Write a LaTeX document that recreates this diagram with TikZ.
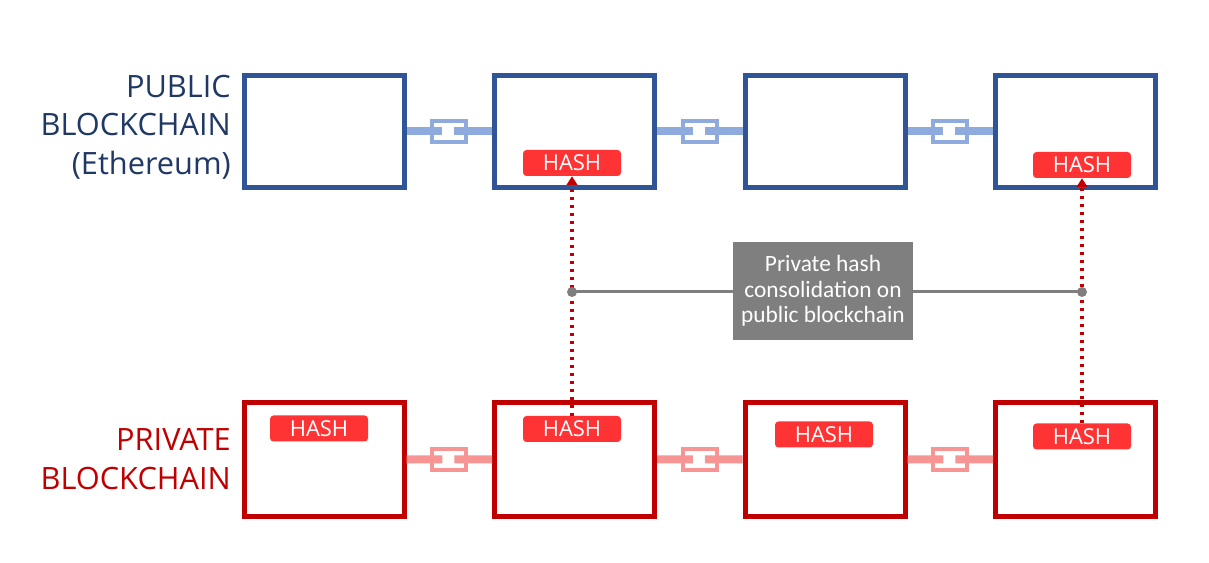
\documentclass[tikz,border=0pt]{standalone}
\usepackage{fontspec}
\setmainfont{Open Sans}
\newfontfamily\notefont{Carlito}
\usepackage{tikz}
\usetikzlibrary{arrows.meta,positioning,calc}

\definecolor{pubblue}{HTML}{2F5597}
\definecolor{pubchain}{HTML}{8FAADC}
\definecolor{pubtext}{HTML}{203864}
\definecolor{prvred}{HTML}{C00000}
\definecolor{prvchain}{HTML}{F79494}
\definecolor{hashred}{HTML}{FF3333}
\definecolor{notegray}{HTML}{7F7F7F}

% chain link between two blocks: from, to, colour
\newcommand{\chainlink}[3]{%
\coordinate (m) at ($(#1.east)!0.5!(#2.west)$);
\draw[#3, line width=0.16cm] (#1.east) -- ($(m)+(-0.14,0)$);
\draw[#3, line width=0.16cm] ($(m)+(0.1,0)$) -- (#2.west);
\draw[#3, line width=0.08cm] ($(m)+(-0.34,-0.21)$) rectangle ($(m)+(0.34,0.21)$);
}

\begin{document}
\begin{tikzpicture}[node distance=1.71cm]
\tikzstyle{block} = [rectangle, line width=0.1cm, minimum width=3.2cm, minimum height=2.24cm, inner sep=0]
\tikzstyle{pubblock} = [block, draw=pubblue]
\tikzstyle{prvblock} = [block, draw=prvred, minimum height=2.28cm]
\tikzstyle{hash} = [rectangle, fill=hashred, rounded corners=0.07cm, text=white, minimum width=1.96cm, minimum height=0.52cm, inner sep=0, font=\fontsize{12.5}{14}\selectfont]
\tikzstyle{hashlink} = [prvred, line width=0.07cm, dash pattern=on 0.06cm off 0.1cm, -{Triangle[length=0.17cm, width=0.22cm, line width=0pt]}]
\useasboundingbox (0,0) rectangle (24.18,11.26);

% public chain
\node[pubblock] (pub1) at (6.48,8.63) {};
\node[pubblock] (pub2) [right=of pub1] {};
\node[pubblock] (pub3) [right=of pub2] {};
\node[pubblock] (pub4) [right=of pub3] {};
\chainlink{pub1}{pub2}{pubchain}
\chainlink{pub2}{pub3}{pubchain}
\chainlink{pub3}{pub4}{pubchain}
\node[anchor=east, align=right, text=pubtext, font=\fontsize{17.5}{21.8}\selectfont] (publabel) at (4.74,8.72) {PUBLIC\\BLOCKCHAIN\\(Ethereum)};

% private chain
\node[prvblock] (prv1) at (6.48,2.07) {};
\node[prvblock] (prv2) [right=of prv1] {};
\node[prvblock] (prv3) [right=of prv2] {};
\node[prvblock] (prv4) [right=of prv3] {};
\chainlink{prv1}{prv2}{prvchain}
\chainlink{prv2}{prv3}{prvchain}
\chainlink{prv3}{prv4}{prvchain}
\node[anchor=east, align=right, text=prvred, font=\fontsize{17.5}{21.8}\selectfont] (prvlabel) at (4.74,2.08) {PRIVATE\\BLOCKCHAIN};

% hashes
\node[hash] (pub2hash) at (11.44,8.0) {HASH};
\node[hash] (pub4hash) at (21.64,7.96) {HASH};
\node[hash] (prv1hash) at (6.38,2.69) {HASH};
\node[hash] (prv2hash) at (11.44,2.68) {HASH};
\node[hash] (prv3hash) at (16.48,2.57) {HASH};
\node[hash] (prv4hash) at (21.64,2.53) {HASH};

\draw[hashlink] (prv2hash.north) -- (pub2hash.south);
\draw[hashlink] (prv4hash.north) -- (pub4hash.south);

% consolidation
\coordinate (c1) at (11.44,5.42);
\coordinate (c2) at (21.64,5.42);
\draw[notegray, line width=0.06cm] (c1) -- (c2);
\fill[notegray] (c1) circle (0.1cm) (c2) circle (0.1cm);
\node[fill=notegray, text=white, align=center, minimum width=3.6cm, minimum height=1.96cm, inner sep=0, font=\notefont\fontsize{13.3}{14.5}\selectfont] (note) at (16.46,5.44) {Private hash\\consolidation on\\public blockchain};
\end{tikzpicture}
\end{document}
